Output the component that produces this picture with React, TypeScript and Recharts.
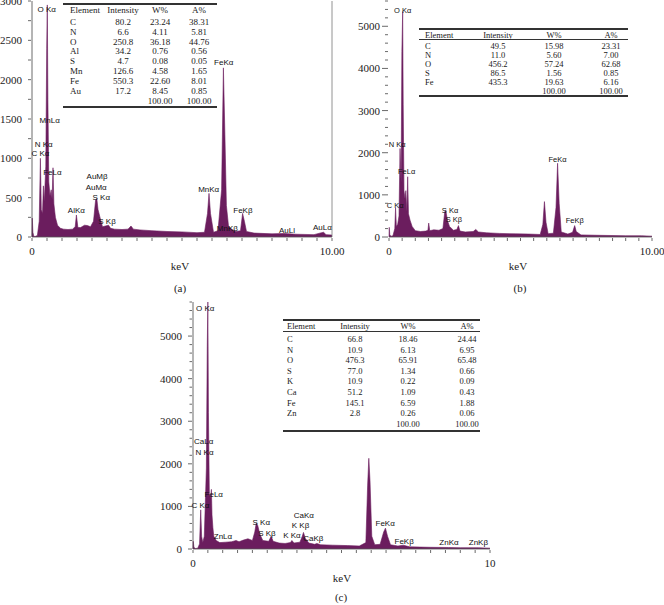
import React from 'react';
import { Area, AreaChart, ReferenceDot, ReferenceLine, XAxis, YAxis } from 'recharts';

const PURPLE = '#6b1d5e';
const SERIF = "'Liberation Serif', 'Times New Roman', serif";
const SANS = "'Liberation Sans', Arial, sans-serif";

// spectrum (a): [keV, counts]
const spectrumA: [number, number][] = [
  [0, 0], [0.01, 240], [0.03, 60], [0.06, 10], [0.1, 5], [0.18, 20], [0.24, 200], [0.28, 1000],
  [0.31, 350], [0.35, 300], [0.38, 650], [0.41, 450], [0.46, 900], [0.49, 2400], [0.51, 2950],
  [0.53, 1750], [0.56, 700], [0.6, 520], [0.64, 600], [0.67, 480], [0.7, 880], [0.73, 420],
  [0.78, 250], [0.85, 150], [0.95, 110], [1.05, 100], [1.2, 95], [1.35, 100], [1.44, 130],
  [1.48, 280], [1.53, 120], [1.62, 120], [1.75, 150], [1.85, 145], [1.95, 130], [2.05, 200],
  [2.12, 470], [2.16, 490], [2.2, 350], [2.28, 230], [2.35, 130], [2.45, 140], [2.55, 150],
  [2.62, 110], [2.75, 100], [3.0, 95], [3.2, 100], [3.3, 140], [3.38, 100], [3.6, 90], [4.0, 80],
  [4.5, 70], [5.0, 65], [5.5, 55], [5.75, 60], [5.85, 300], [5.9, 555], [5.95, 300], [6.05, 60],
  [6.2, 80], [6.32, 600], [6.38, 2150], [6.43, 1300], [6.48, 400], [6.55, 140], [6.65, 100],
  [6.8, 70], [6.95, 80], [7.02, 300], [7.08, 200], [7.15, 70], [7.4, 50], [8.0, 40], [8.4, 45],
  [8.8, 35], [9.4, 30], [9.65, 55], [9.72, 60], [9.8, 30], [10.0, 25],
];

const spectrumB: [number, number][] = [
  [0, 0], [0.01, 230], [0.03, 50], [0.08, 20], [0.15, 30], [0.22, 200], [0.25, 690], [0.28, 250],
  [0.33, 300], [0.38, 500], [0.42, 2100], [0.46, 1300], [0.49, 4400], [0.52, 5350], [0.54, 3150],
  [0.57, 1100], [0.61, 900], [0.64, 1100], [0.68, 600], [0.71, 1430], [0.74, 550], [0.8, 400],
  [0.88, 250], [1.0, 150], [1.2, 130], [1.4, 140], [1.48, 160], [1.51, 330], [1.55, 150],
  [1.7, 170], [1.9, 160], [2.05, 200], [2.12, 600], [2.16, 630], [2.22, 400], [2.3, 250],
  [2.45, 160], [2.58, 180], [2.64, 270], [2.7, 140], [2.9, 120], [3.2, 130], [3.3, 180],
  [3.4, 120], [3.7, 100], [4.2, 85], [4.8, 75], [5.3, 70], [5.75, 60], [5.85, 300], [5.91, 840],
  [5.97, 350], [6.05, 80], [6.25, 90], [6.35, 700], [6.41, 1750], [6.47, 800], [6.55, 120],
  [6.8, 70], [6.98, 110], [7.06, 270], [7.12, 130], [7.3, 50], [8.0, 40], [9.0, 30], [9.6, 30],
  [10.0, 20],
];

const spectrumC: [number, number][] = [
  [0, 0], [0.01, 180], [0.03, 40], [0.08, 10], [0.16, 20], [0.22, 120], [0.26, 920], [0.29, 300],
  [0.33, 150], [0.38, 300], [0.42, 1200], [0.45, 1900], [0.48, 4750], [0.5, 5800], [0.52, 3200],
  [0.55, 1300], [0.59, 1200], [0.62, 1400], [0.64, 800], [0.67, 500], [0.7, 300], [0.78, 200],
  [0.9, 150], [1.1, 160], [1.3, 170], [1.45, 200], [1.55, 170], [1.7, 210], [1.85, 240],
  [2.0, 200], [2.08, 400], [2.13, 610], [2.18, 550], [2.25, 350], [2.35, 200], [2.55, 180],
  [2.63, 300], [2.7, 180], [2.9, 140], [3.1, 130], [3.28, 150], [3.33, 200], [3.4, 140],
  [3.6, 160], [3.68, 300], [3.72, 390], [3.78, 250], [3.9, 140], [4.1, 110], [4.17, 130],
  [4.3, 100], [4.7, 90], [5.2, 80], [5.6, 70], [5.82, 150], [5.88, 1500], [5.92, 2130],
  [5.96, 1600], [6.02, 300], [6.12, 100], [6.3, 110], [6.42, 400], [6.48, 490], [6.55, 300],
  [6.65, 100], [6.9, 70], [7.08, 90], [7.3, 50], [8.0, 40], [8.6, 35], [9.0, 30], [9.6, 30],
  [10.0, 20],
];

// peak names: [text, keV, counts]
const peaksA: [string, number, number][] = [
  ['O Kα', 0.49, 2900], ['MnLα', 0.59, 1480], ['N Kα', 0.39, 1175], ['C Kα', 0.28, 1060],
  ['FeLα', 0.68, 820], ['AuMβ', 2.17, 773], ['AuMα', 2.14, 630], ['S Kα', 2.31, 504],
  ['AlKα', 1.48, 345], ['S Kβ', 2.5, 206], ['MnKα', 5.89, 613], ['FeKα', 6.39, 2227],
  ['FeKβ', 7.03, 345], ['MnKβ', 6.51, 109], ['AuLl', 8.5, 92], ['AuLα', 9.68, 126],
];

const peaksB: [string, number, number][] = [
  ['O Kα', 0.52, 5370], ['N Kα', 0.31, 2197], ['FeLα', 0.67, 1550], ['C Kα', 0.23, 750],
  ['S Kα', 2.32, 630], ['S Kβ', 2.47, 410], ['FeKα', 6.41, 1840], ['FeKβ', 7.06, 395],
];

const peaksC: [string, number, number][] = [
  ['O Kα', 0.41, 5655], ['CaLα', 0.36, 2543], ['N Kα', 0.39, 2285], ['FeLα', 0.7, 1280],
  ['C Kα', 0.25, 1037], ['ZnLα', 1.01, 296], ['S Kα', 2.3, 632], ['S Kβ', 2.49, 374],
  ['K Kα', 3.33, 320], ['CaKα', 3.73, 803], ['K Kβ', 3.62, 554], ['CaKβ', 4.05, 257],
  ['FeKα', 6.47, 608], ['FeKβ', 7.11, 195], ['ZnKα', 8.62, 156], ['ZnKβ', 9.61, 156],
];

const yLabelsA = [0, 500, 1000, 1500, 2000, 2500, 3000];
const yLabelsB = [0, 1000, 2000, 3000, 4000, 5000];
const yLabelsC = [0, 1000, 2000, 3000, 4000, 5000];

const tableHeader = ['Element', 'Intensity', 'W%', 'A%'];

const elementsA = ['C', 'N', 'O', 'Al', 'S', 'Mn', 'Fe', 'Au', ''];
const intensityA = ['80.2', '6.6', '250.8', '34.2', '4.7', '126.6', '550.3', '17.2', ''];
const weightA = ['23.24', '4.11', '36.18', '0.76', '0.08', '4.58', '22.60', '8.45', '100.00'];
const atomicA = ['38.31', '5.81', '44.76', '0.56', '0.05', '1.65', '8.01', '0.85', '100.00'];

const elementsB = ['C', 'N', 'O', 'S', 'Fe', ''];
const intensityB = ['49.5', '11.0', '456.2', '86.5', '435.3', ''];
const weightB = ['15.98', '5.60', '57.24', '1.56', '19.63', '100.00'];
const atomicB = ['23.31', '7.00', '62.68', '0.85', '6.16', '100.00'];

const elementsC = ['C', 'N', 'O', 'S', 'K', 'Ca', 'Fe', 'Zn', ''];
const intensityC = ['66.8', '10.9', '476.3', '77.0', '10.9', '51.2', '145.1', '2.8', ''];
const weightC = ['18.46', '6.13', '65.91', '1.34', '0.22', '1.09', '6.59', '0.26', '100.00'];
const atomicC = ['24.44', '6.95', '65.48', '0.66', '0.09', '0.43', '1.88', '0.06', '100.00'];

function YTick({ x, y, payload, labels, gap, major, minor }: any) {
  const isMajor = labels.includes(payload.value);
  const len = isMajor ? major : minor;
  return (
    <g>
      <line x1={x - len - 1} x2={x - 1} y1={y} y2={y} stroke="#444" strokeWidth={0.8} />
      {isMajor && (
        <text x={x - gap} y={y} dy={4} textAnchor="end" fontSize={11} fontFamily={SERIF} fill="#222">
          {payload.value}
        </text>
      )}
    </g>
  );
}

function XTick({ x, y, payload, endLabel }: any) {
  const v = payload.value;
  return (
    <g>
      <line x1={x} x2={x} y1={y + 1} y2={y + 4} stroke="#444" strokeWidth={0.8} />
      {(v === 0 || v === 10) && (
        <text x={x} y={y + 18} textAnchor="middle" fontSize={11} fontFamily={SERIF} fill="#222">
          {v === 0 ? '0' : endLabel}
        </text>
      )}
    </g>
  );
}

function Spectrum(props: any) {
  const { spectrum, peaks, yMax, yLabels, minorStep, left, top, width, height, yWidth, margin,
    yAxisLine, border, endLabel, labelSize, gap, major, minor } = props;
  const data = spectrum.map(([e, c]: [number, number]) => ({ e, c }));
  const yTicks: number[] = [];
  for (let v = 0; v <= yMax; v += minorStep) yTicks.push(v);
  const xTicks: number[] = [];
  for (let i = 0; i <= 20; i++) xTicks.push(i / 2);
  return (
    <div style={{ position: 'absolute', left, top }}>
      <AreaChart width={width} height={height} data={data} margin={margin}>
        <XAxis dataKey="e" type="number" domain={[0, 10]} ticks={xTicks} interval={0}
          axisLine={{ stroke: '#555', strokeWidth: 0.8 }} tickLine={false} tickSize={0} tickMargin={0}
          height={30} tick={<XTick endLabel={endLabel} />} />
        <YAxis type="number" domain={[0, yMax]} ticks={yTicks} interval={0} width={yWidth}
          axisLine={yAxisLine ? { stroke: '#444', strokeWidth: 0.8 } : false} tickLine={false}
          tickSize={0} tickMargin={0}
          tick={<YTick labels={yLabels} gap={gap} major={major} minor={minor} />} />
        {border && <ReferenceLine x={10} stroke="#777" strokeWidth={0.8} />}
        <Area type="linear" dataKey="c" stroke={PURPLE} strokeWidth={0.6} fill={PURPLE}
          fillOpacity={1} isAnimationActive={false} dot={false} activeDot={false} />
        {peaks.map(([t, e, c]: [string, number, number]) => (
          <ReferenceDot key={t + e} x={e} y={c} r={0} stroke="none" fill="none"
            label={{ value: t, position: 'center', fontSize: labelSize, fill: '#111', fontFamily: SANS }} />
        ))}
      </AreaChart>
    </div>
  );
}

function DataTable(props: any) {
  const { left, width, topLine, headerY, headerLine, firstY, step, bottomLine, cols, fontSize, elements, intensity, weight, atomic } = props;
  const cell = (text: string, x: number, y: number, align: 'left' | 'center') => (
    <div key={`${text}-${x}-${y}`} style={{
      position: 'absolute', left: x, top: y, fontSize, fontFamily: SERIF, color: '#1a1a1a', lineHeight: 1,
      whiteSpace: 'nowrap', transform: align === 'center' ? 'translate(-50%, -50%)' : 'translate(0, -50%)',
    }}>{text}</div>
  );
  const rule = (y: number, w: number) => (
    <div key={`rule-${y}`} style={{ position: 'absolute', left, top: y - w / 2, width, height: w, background: '#333' }} />
  );
  return (
    <>
      {rule(topLine, 1.2)}
      {headerLine !== undefined && rule(headerLine, 0.7)}
      {rule(bottomLine, 1.2)}
      {cell(tableHeader[0], cols[0], headerY, 'left')}
      {cell(tableHeader[1], cols[1], headerY, 'center')}
      {cell(tableHeader[2], cols[2], headerY, 'center')}
      {cell(tableHeader[3], cols[3], headerY, 'center')}
      {elements.map((el: string, i: number) => {
        const y = firstY + i * step;
        return (
          <React.Fragment key={i}>
            {el && cell(el, cols[0], y, 'left')}
            {intensity[i] && cell(intensity[i], cols[1], y, 'center')}
            {cell(weight[i], cols[2], y, 'center')}
            {cell(atomic[i], cols[3], y, 'center')}
          </React.Fragment>
        );
      })}
    </>
  );
}

function Caption({ x, y, text }: { x: number; y: number; text: string }) {
  return (
    <div style={{ position: 'absolute', left: x, top: y, transform: 'translate(-50%, -50%)', fontSize: 11, fontFamily: SERIF, color: '#222', lineHeight: 1 }}>
      {text}
    </div>
  );
}

export default function App() {
  return (
    <div style={{ position: 'absolute', left: 0, top: 0, width: 664, height: 605, background: '#fff', overflow: 'hidden' }}>
      <Spectrum spectrum={spectrumA} peaks={peaksA} yMax={3000} yLabels={yLabelsA} minorStep={250}
        left={0} top={0} width={352} height={280} yWidth={32} margin={{ top: 1, right: 20, left: 0, bottom: 13 }}
        yAxisLine border endLabel="10.00" labelSize={8} gap={10} major={3} minor={3} />
      <Spectrum spectrum={spectrumB} peaks={peaksB} yMax={5600} yLabels={yLabelsB} minorStep={200}
        left={340} top={0} width={324} height={280} yWidth={49} margin={{ top: 1, right: 12, left: 0, bottom: 13 }}
        yAxisLine={false} border={false} endLabel="10.00" labelSize={7.5} gap={9} major={6} minor={3} />
      <Spectrum spectrum={spectrumC} peaks={peaksC} yMax={5800} yLabels={yLabelsC} minorStep={200}
        left={150} top={295} width={350} height={284} yWidth={43} margin={{ top: 7, right: 10, left: 0, bottom: 0 }}
        yAxisLine border={false} endLabel="10" labelSize={8} gap={11} major={4} minor={2.5} />

      <DataTable left={63} width={154} topLine={4} headerY={10} firstY={21.7} step={9.9} bottomLine={107}
        cols={[70, 123, 160, 199]} fontSize={9}
        elements={elementsA} intensity={intensityA} weight={weightA} atomic={atomicA} />
      <DataTable left={419} width={209} topLine={29} headerY={35} headerLine={39.3} firstY={45.5} step={9}
        bottomLine={96} cols={[425, 498, 554, 611]} fontSize={8.5}
        elements={elementsB} intensity={intensityB} weight={weightB} atomic={atomicB} />
      <DataTable left={283} width={197} topLine={320} headerY={326} headerLine={331} firstY={339} step={10.6}
        bottomLine={431} cols={[287, 355, 408, 467]} fontSize={8.5}
        elements={elementsC} intensity={intensityC} weight={weightC} atomic={atomicC} />

      <Caption x={180} y={266} text="keV" />
      <Caption x={518} y={266} text="keV" />
      <Caption x={342} y={578} text="keV" />
      <Caption x={180} y={288} text="(a)" />
      <Caption x={520} y={288} text="(b)" />
      <Caption x={341} y={597} text="(c)" />
    </div>
  );
}
